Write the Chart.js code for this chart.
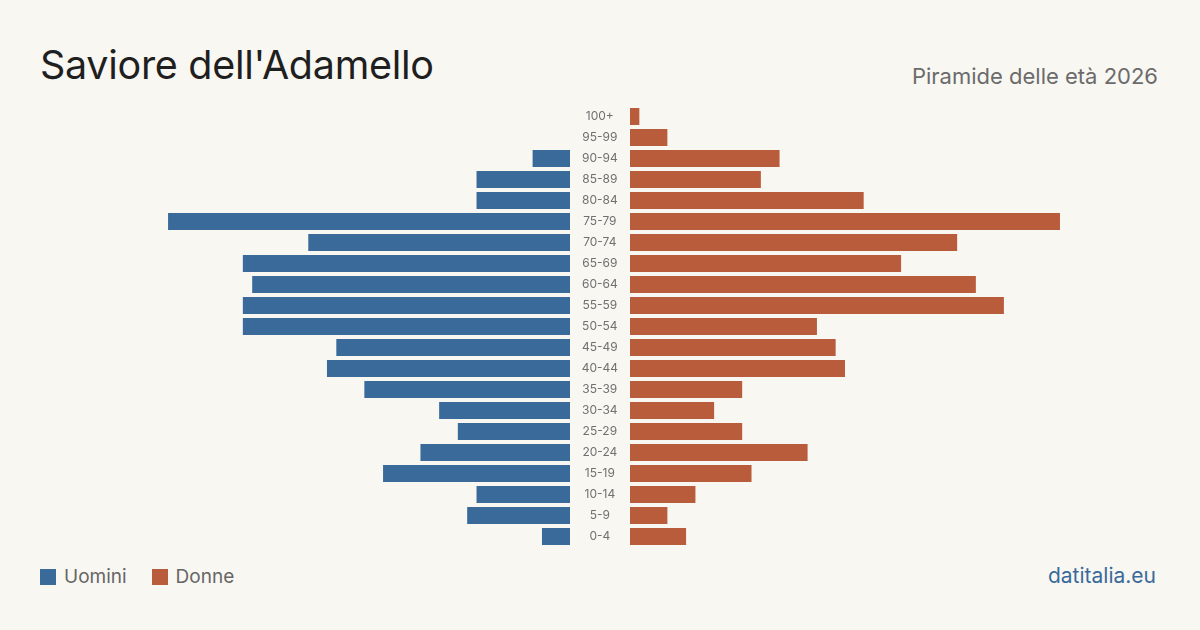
<!DOCTYPE html>
<html>
<head>
<meta charset="utf-8">
<script src="https://cdn.jsdelivr.net/npm/chart.js"></script>
<style>
  html, body { margin: 0; padding: 0; }
  body { width: 1200px; height: 630px; background: #f9f7f2; position: relative; overflow: hidden; font-family: Inter, "Noto Sans", sans-serif; }
  #title { position: absolute; left: 40px; top: 40px; font-size: 39.5px; color: #1f1f1f; letter-spacing: -0.3px; line-height: 50px; }
  #subtitle { position: absolute; right: 42px; top: 62px; font-size: 22px; color: #6b6b6b; line-height: 28px; }
  #leftBox { position: absolute; left: 40px; top: 106px; width: 530px; height: 441px; }
  #rightBox { position: absolute; left: 570px; top: 106px; width: 590px; height: 441px; }
  #legend { position: absolute; left: 40px; top: 565px; font-size: 19px; color: #666; display: flex; align-items: center; }
  .sw { display: inline-block; width: 16px; height: 16px; margin-right: 8px; }
  .item { display: flex; align-items: center; margin-right: 25px; }
  #source { position: absolute; right: 44px; top: 563px; font-size: 21px; color: #3a6a9a; }
</style>
</head>
<body>
<div id="title">Saviore dell'Adamello</div>
<div id="subtitle">Piramide delle età 2026</div>
<div id="leftBox"><canvas id="menChart"></canvas></div>
<div id="rightBox"><canvas id="womenChart"></canvas></div>
<div id="legend">
  <span class="item"><span class="sw" style="background:#3a6a9a"></span>Uomini</span>
  <span class="item"><span class="sw" style="background:#b95c3c"></span>Donne</span>
</div>
<div id="source">datitalia.eu</div>
<script>
const ageGroups = ["100+", "95-99", "90-94", "85-89", "80-84", "75-79", "70-74", "65-69", "60-64", "55-59",
  "50-54", "45-49", "40-44", "35-39", "30-34", "25-29", "20-24", "15-19", "10-14", "5-9", "0-4"];
const men = [0, 0, 4, 10, 10, 43, 28, 35, 34, 35, 35, 25, 26, 22, 14, 12, 16, 20, 10, 11, 3];
const women = [1, 4, 16, 14, 25, 46, 35, 29, 37, 40, 20, 22, 23, 12, 9, 12, 19, 13, 7, 4, 6];
const axisMax = 56.7;

const menColor = "#3a6a9a";
const womenColor = "#b95c3c";

new Chart(document.getElementById("menChart"), {
  type: "bar",
  data: {
    labels: ageGroups,
    datasets: [{
      label: "Uomini",
      data: men,
      backgroundColor: menColor,
      barPercentage: 0.81,
      categoryPercentage: 1
    }]
  },
  options: {
    indexAxis: "y",
    responsive: true,
    maintainAspectRatio: false,
    animation: false,
    layout: { padding: 0 },
    plugins: { legend: { display: false }, tooltip: { enabled: false } },
    scales: {
      x: { reverse: true, min: 0, max: axisMax, display: false },
      y: { display: false }
    }
  }
});

new Chart(document.getElementById("womenChart"), {
  type: "bar",
  data: {
    labels: ageGroups,
    datasets: [{
      label: "Donne",
      data: women,
      backgroundColor: womenColor,
      barPercentage: 0.81,
      categoryPercentage: 1
    }]
  },
  options: {
    indexAxis: "y",
    responsive: true,
    maintainAspectRatio: false,
    animation: false,
    layout: { padding: 0 },
    plugins: { legend: { display: false }, tooltip: { enabled: false } },
    scales: {
      x: { min: 0, max: axisMax, display: false },
      y: {
        grid: { display: false, drawTicks: false },
        border: { display: false },
        ticks: {
          color: "#707070",
          font: { family: "Inter", size: 12 },
          crossAlign: "center",
          padding: 12
        },
        afterFit: (scale) => {
          scale.width = 60;
          scale.paddingTop = 0;
          scale.paddingBottom = 0;
        }
      }
    }
  }
});
</script>
</body>
</html>
